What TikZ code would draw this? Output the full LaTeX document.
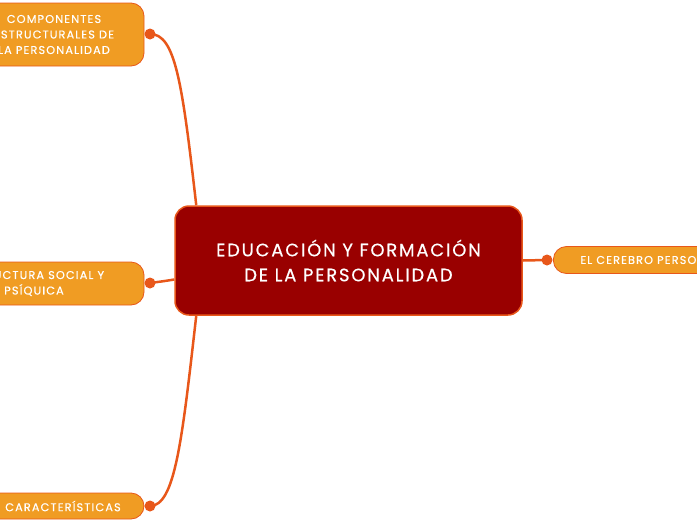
\documentclass[tikz,border=0pt]{standalone}
\usepackage{fontspec}
\setmainfont{Poppins}[LetterSpace=10,FakeBold=0.4]
\usetikzlibrary{positioning,backgrounds}
\definecolor{mapred}{HTML}{990000}
\definecolor{maporange}{HTML}{F09C23}
\definecolor{mapline}{HTML}{E8571A}
\tikzset{
  root/.style = {draw=mapline, line width=1.5pt, fill=mapred, text=white,
                 rounded corners=14pt, align=center, minimum width=347pt,
                 minimum height=109pt, font=\fontsize{18}{25}\selectfont},
  leaf/.style = {draw=mapline, line width=0.8pt, fill=maporange, text=white,
                 rounded corners=13pt, align=center, inner sep=0pt,
                 font=\fontsize{11.3}{15.5}\selectfont},
  knob/.style = {circle, fill=mapline, inner sep=0pt, minimum size=11pt},
  link/.style = {mapline, line width=2.5pt},
}

\begin{document}
\begin{tikzpicture}[x=1pt,y=-1pt]
  \useasboundingbox (0,0) rectangle (697,520);
  % central topic
  \node[root] (cent) at (348.5,260.5) {EDUCACIÓN Y FORMACIÓN\\DE LA PERSONALIDAD};
  % subtopics
  \node[leaf, minimum width=180pt, minimum height=63pt] (comp) at (54,34.5)
     {COMPONENTES\\ESTRUCTURALES DE\\LA PERSONALIDAD};
  \node[leaf, minimum width=220pt, minimum height=43pt] (estr) at (34,283.5)
     {ESTRUCTURA SOCIAL Y\\PSÍQUICA};
  \node[leaf, minimum width=162pt, minimum height=26pt] (cara) at (63,506)
     {CARACTERÍSTICAS};
  \node[leaf, anchor=west, minimum height=27pt, inner xsep=27pt] (cere) at (553,260)
     {EL CEREBRO PERSONALIDAD};
  % knobs
  \node[knob] (k1) at (150,34) {};
  \node[knob] (k2) at (150,283) {};
  \node[knob] (k3) at (150,506) {};
  \node[knob] (k4) at (547,260) {};
  % links
  \begin{scope}[on background layer]
    \draw[link] ([xshift=22pt]cent.north west) .. controls (182,80) and (175,34) .. (k1.center);
    \draw[link] ([yshift=-19pt]cent.west) .. controls (165,281) .. (k2.center);
    \draw[link] ([xshift=22pt]cent.south west) .. controls (182,441) and (175,506) .. (k3.center);
    \draw[link] (cent.east) -- (k4.center);
  \end{scope}
\end{tikzpicture}
\end{document}
